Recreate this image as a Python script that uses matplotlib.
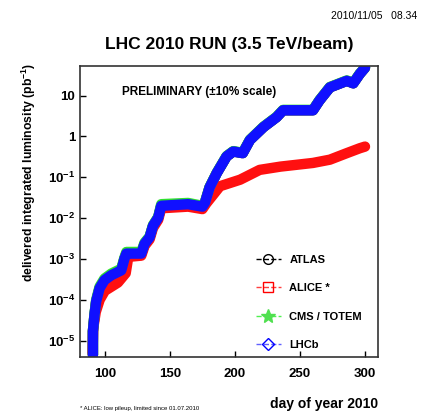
import matplotlib
matplotlib.use("Agg")
import matplotlib.pyplot as plt
import numpy as np

plt.rcParams['font.family'] = ['Liberation Sans', 'DejaVu Sans']
plt.rcParams['font.weight'] = 'bold'
plt.rcParams['axes.labelweight'] = 'bold'
plt.rcParams['mathtext.fontset'] = 'custom'
plt.rcParams['mathtext.rm'] = 'Liberation Sans:bold'
plt.rcParams['mathtext.bf'] = 'Liberation Sans:bold'
plt.rcParams['mathtext.default'] = 'bf'

# day of year / log10 of delivered lumi (pb^-1)
days = [90.8, 90.8, 92, 93.3, 95.9, 99.7, 104.9, 112.6, 115, 116.5, 128, 130.5,
        134.4, 137, 141, 143.3, 164, 175, 177, 180.5, 186, 193.6, 198.7, 206,
        211.5, 222, 232, 237, 260, 265, 273, 286, 291, 296, 300]
atlas_log = [-5.35, -4.77, -4.37, -4.04, -3.72, -3.52, -3.40, -3.28, -3.0, -2.87, -2.87, -2.63,
             -2.47, -2.19, -1.99, -1.70, -1.66, -1.72, -1.62, -1.25, -0.90, -0.49, -0.37, -0.41,
             -0.09, 0.23, 0.47, 0.64, 0.64, 0.88, 1.20, 1.36, 1.30, 1.53, 1.68]
cms_log = [-5.35, -4.77, -4.35, -4.0, -3.68, -3.48, -3.36, -3.24, -2.97, -2.83, -2.83, -2.60,
           -2.45, -2.17, -1.97, -1.66, -1.63, -1.70, -1.60, -1.24, -0.89, -0.48, -0.36, -0.40,
           -0.08, 0.24, 0.48, 0.65, 0.65, 0.89, 1.21, 1.37, 1.31, 1.54, 1.68]
lhcb_log = [-5.35, -4.77, -4.37, -4.04, -3.72, -3.52, -3.40, -3.28, -3.0, -2.87, -2.87, -2.63,
            -2.47, -2.19, -1.99, -1.70, -1.66, -1.72, -1.62, -1.25, -0.90, -0.49, -0.37, -0.41,
            -0.09, 0.23, 0.47, 0.64, 0.64, 0.88, 1.20, 1.36, 1.30, 1.53, 1.68]

alice_days = [90.5, 91, 93, 96, 100, 105, 110, 116, 118, 128, 130.5, 134.4, 137, 141,
              143.3, 164, 175, 178, 188.5, 204, 219, 235, 260, 273, 286, 296, 300]
alice_log = [-5.3, -4.7, -4.3, -4.0, -3.78, -3.68, -3.58, -3.35, -2.95, -2.92, -2.68, -2.52,
             -2.24, -2.04, -1.76, -1.72, -1.78, -1.64, -1.22, -1.06, -0.82, -0.74, -0.65,
             -0.57, -0.41, -0.29, -0.25]

fig = plt.figure(figsize=(4.32, 4.16), dpi=100)
ax = fig.add_axes([0.185, 0.142, 0.69, 0.699])

lw = 7.5
kw = dict(lw=lw, solid_capstyle='round', solid_joinstyle='round')
ax.plot(days, 10 ** np.array(atlas_log), color='black', **kw)
ax.plot(alice_days, 10 ** np.array(alice_log), color='#ff1010', **kw)
ax.plot(days, 10 ** np.array(cms_log), color='#30e030', **kw)
ax.plot(days, 10 ** np.array(lhcb_log), color='#1010ff', **kw)

# legend proxies
h1, = ax.plot([], [], color='black', ls='--', lw=1, marker='o', mfc='none', mec='black', ms=7)
h2, = ax.plot([], [], color='#ff4040', ls='--', lw=1, marker='s', mfc='none', mec='red', ms=7)
h3, = ax.plot([], [], color='#50f050', ls='--', lw=1, marker='*', mfc='#50e050', mec='#50e050', ms=10)
h4, = ax.plot([], [], color='#6060ff', ls='--', lw=1, marker='D', mfc='none', mec='blue', ms=6)
ax.legend([h1, h2, h3, h4], ['ATLAS', 'ALICE *', 'CMS / TOTEM', 'LHCb'],
          loc='lower right', bbox_to_anchor=(0.98, -0.01), frameon=False,
          fontsize=8, handlelength=2.2, labelspacing=1.65)

ax.set_yscale('log')
ax.set_xlim(80.8, 310)
ax.set_ylim(10 ** -5.4, 10 ** 1.72)
ax.set_xticks([100, 150, 200, 250, 300])
ax.set_yticks([1e-5, 1e-4, 1e-3, 1e-2, 1e-1, 1, 10])
ax.set_yticklabels(['$10^{-5}$', '$10^{-4}$', '$10^{-3}$', '$10^{-2}$', '$10^{-1}$', '1', '10'])
ax.minorticks_off()
ax.tick_params(direction='in', labelsize=9.5, length=4, width=1)
ax.tick_params(axis='x', pad=8)
for s in ax.spines.values():
    s.set_linewidth(1.2)
    s.set_color('#333333')

ax.set_ylabel('delivered integrated luminosity (pb$^{-1}$)', fontsize=8.8)
ax.yaxis.set_label_coords(-0.14, 0.635)
ax.set_xlabel('day of year 2010', fontsize=10, loc='right', labelpad=12)

ax.text(0.14, 0.9, 'PRELIMINARY (±10% scale)', transform=ax.transAxes, fontsize=8.5)
fig.text(0.53, 0.892, 'LHC 2010 RUN (3.5 TeV/beam)', ha='center', va='center', fontsize=12.5)
fig.text(0.965, 0.955, '2010/11/05   08.34', ha='right', fontsize=7.5, weight='normal')
fig.text(0.185, 0.015, '* ALICE: low pileup, limited since 01.07.2010', fontsize=4.3, weight='normal')

fig.savefig('out.png', dpi=100, facecolor='white')
